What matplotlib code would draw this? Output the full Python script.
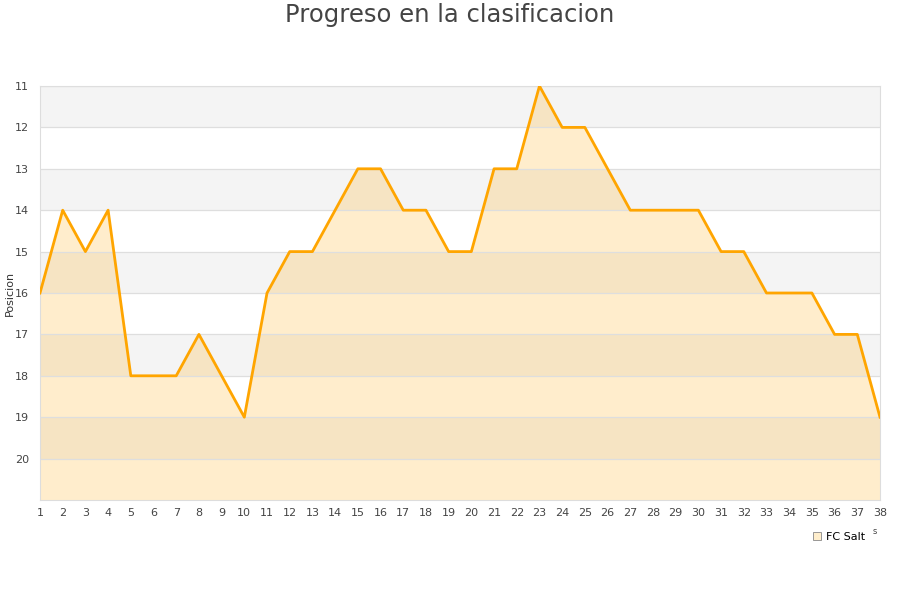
import matplotlib
matplotlib.use("Agg")
import matplotlib.pyplot as plt
from matplotlib.lines import Line2D

jornadas = list(range(1, 39))
posiciones = [16, 14, 15, 14, 18, 18, 18, 17, 18, 19,
              16, 15, 15, 14, 13, 13, 14, 14, 15, 15,
              13, 13, 11, 12, 12, 13, 14, 14, 14, 14,
              15, 15, 16, 16, 16, 17, 17, 19]
y_ticks = list(range(11, 21))
equipo = "FC Salt"

fig = plt.figure(figsize=(9, 6), dpi=100)
ax = fig.add_axes([40/900, 100/600, 840/900, 414/600])

# bandas alternas
for k in range(11, 21):
    if (k - 11) % 2 == 0:
        ax.axhspan(k, k + 1, color='#f4f4f4', zorder=0, lw=0)

ax.fill_between(jornadas, posiciones, 21, color='#ffa500', alpha=0.2, lw=0, zorder=1)
ax.plot(jornadas, posiciones, color='#ffa500', lw=2, zorder=3)

ax.set_xlim(1, 38)
ax.set_ylim(21, 11)
ax.set_xticks(jornadas)
ax.set_yticks(y_ticks)
ax.grid(axis='y', color='#dedede', lw=0.9, zorder=2)
ax.set_axisbelow(False)
for s in ax.spines.values():
    s.set_color('#dddddd')
ax.tick_params(length=0, labelsize=8, colors='#444444')
ax.tick_params(axis='x', pad=6)
ax.tick_params(axis='y', pad=8)
ax.set_ylabel("Posicion", fontsize=8, color='#333333')
ax.yaxis.set_label_coords(-25/840, 0.5)

fig.text(0.5, 1 - 15/600, "Progreso en la clasificacion", ha='center', va='center',
         fontsize=17.5, color='#444444')

handle = Line2D([], [], marker='s', ls='none', markersize=6,
                markerfacecolor='#ffeecc', markeredgecolor='#888888', markeredgewidth=0.6)
fig.legend([handle], [equipo], loc='center', bbox_to_anchor=(838/900, 1 - 537/600),
           frameon=False, fontsize=8, handletextpad=0.3, handlelength=1)
fig.text(875/900, 1 - 531/600, "s", fontsize=6, color='#444444', ha='center', va='center')

fig.savefig("out.png", dpi=100)
